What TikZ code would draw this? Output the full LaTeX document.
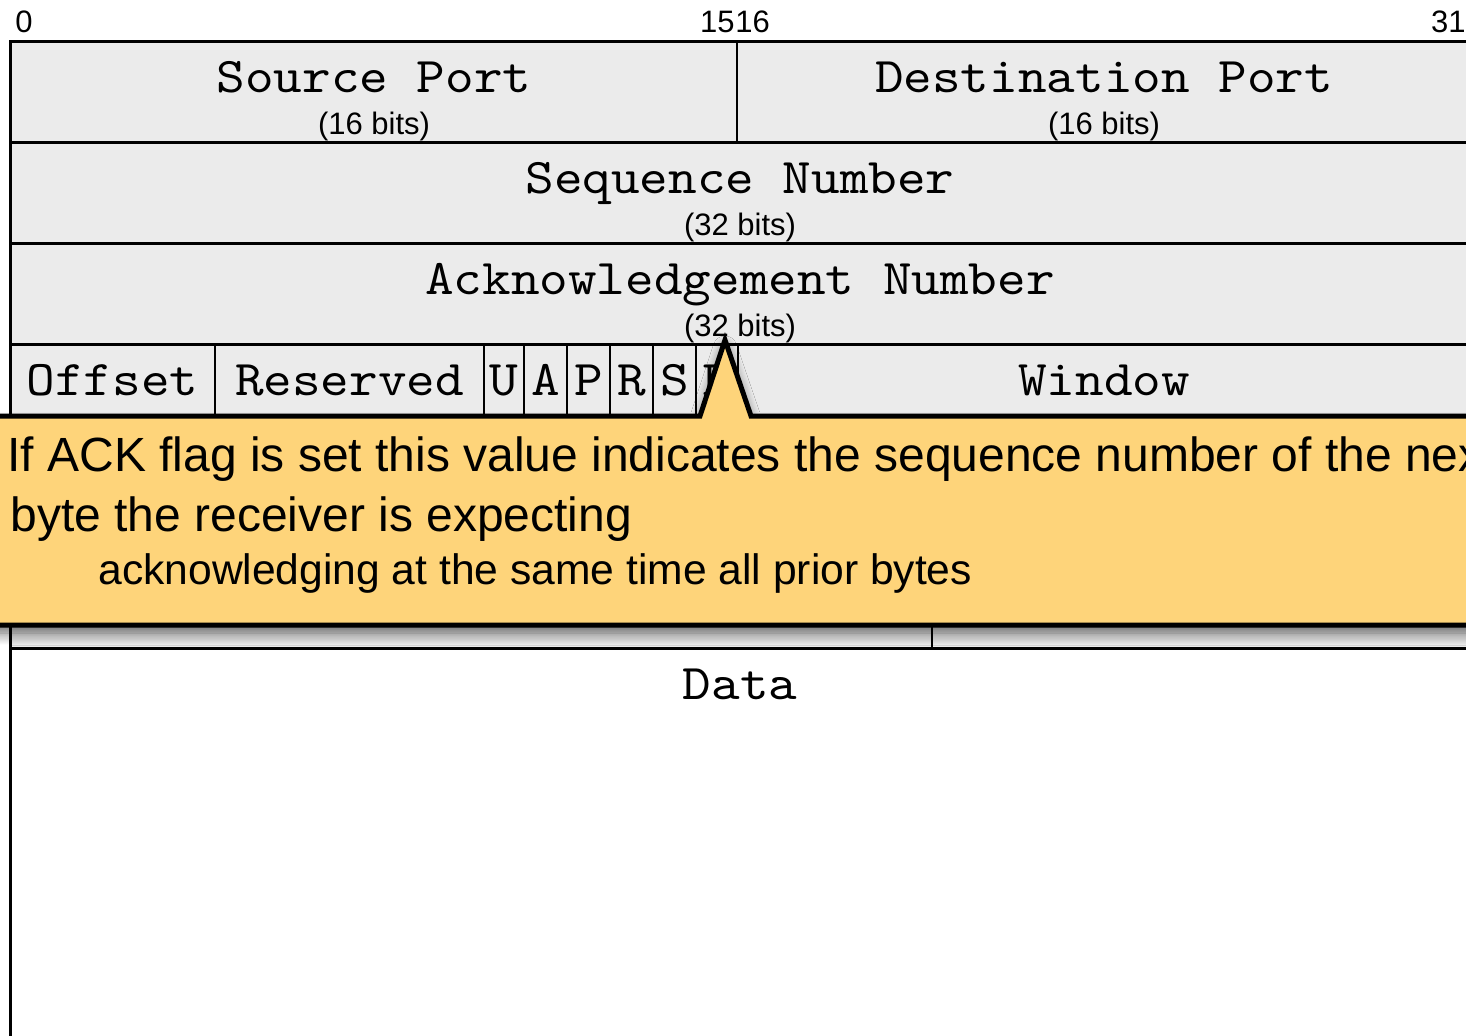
\documentclass[tikz,border=0pt]{standalone}
\usepackage{fontspec}
\setmainfont{Liberation Sans}
\newfontfamily\fieldfont{lmmono10-regular.otf}[FakeStretch=1.09]
\usetikzlibrary{shadows.blur}

\definecolor{cellgray}{RGB}{235,235,235}
\definecolor{noteyellow}{RGB}{254,212,122}

\tikzset{
  field/.style={font=\fieldfont\fontsize{25}{30}\selectfont, anchor=base, inner sep=0pt},
  bits/.style={font=\fontsize{15.5}{18}\selectfont, anchor=base, inner sep=0pt},
  bitno/.style={font=\fontsize{15.5}{18}\selectfont, inner sep=0pt},
  rowline/.style={line width=1.5pt},
  divider/.style={line width=1pt},
  note/.style={fill=noteyellow, draw=black, line width=2.5pt, line join=miter,
    blur shadow={shadow xshift=0pt, shadow yshift=-4pt, shadow blur radius=6pt,
      shadow blur steps=12, shadow opacity=60}},
  notebig/.style={font=\fontsize{24}{29}\selectfont, anchor=base west, inner sep=0pt},
  notesmall/.style={font=\fontsize{21.3}{26}\selectfont, anchor=base west, inner sep=0pt},
}

\begin{document}
\begin{tikzpicture}[x=0.5pt, y=-0.5pt]
\useasboundingbox (0,0) rectangle (1466,1035);
\clip (0,0) rectangle (1466,1035);

% header cells and payload area
\fill[cellgray] (10,41) rectangle (1470,648);
\fill[white] (10,648) rectangle (1470,1045);

% bit numbers
\node[bitno, anchor=base west] (b0) at (15,32) {0};
\node[bitno, anchor=base east] (b15) at (735,32) {15};
\node[bitno, anchor=base west] (b16) at (735,32) {16};
\node[bitno, anchor=base east] (b31) at (1466,32) {31};

% row separators and outer frame
\draw[rowline] (1470,41) -- (10,41) -- (10,1045);
\draw[rowline] (10,142) -- (1470,142);
\draw[rowline] (10,243) -- (1470,243);
\draw[rowline] (10,344) -- (1470,344);
\draw[rowline] (10,648) -- (1470,648);

% column separators
\draw[divider] (737,41) -- (737,142);
\foreach \cx in {215,484,524,567,610,653,696,738}
  \draw[divider] (\cx,344) -- (\cx,445);
\draw[divider] (932,546) -- (932,648);

% field names
\node[field] (src) at (374,92) {Source Port};
\node[bits] (srcb) at (374,134) {(16 bits)};
\node[field] (dst) at (1104,92) {Destination Port};
\node[bits] (dstb) at (1104,134) {(16 bits)};
\node[field] (seq) at (740,193) {Sequence Number};
\node[bits] (seqb) at (740,235) {(32 bits)};
\node[field] (ack) at (740,294) {Acknowledgement Number};
\node[bits] (ackb) at (740,336) {(32 bits)};

\node[field] (off) at (112.5,395) {Offset};
\node[field] (res) at (349.5,395) {Reserved};
\node[field] (fu) at (504,395) {U};
\node[field] (fa) at (545.5,395) {A};
\node[field] (fp) at (588.5,395) {P};
\node[field] (fr) at (631.5,395) {R};
\node[field] (fs) at (674.5,395) {S};
\node[field] (ff) at (717,395) {F};
\node[field] (win) at (1104,395) {Window};

\node[field] (data) at (740,699) {Data};

% explanatory callout pointing at the acknowledgement field
\path[note] (-10,416) -- (700,416) -- (725,340) -- (751,416) -- (1480,416)
  -- (1480,625) -- (-10,625) -- cycle;
\node[notebig] (n1) at (7,471) {If ACK flag is set this value indicates the sequence number of the next};
\node[notebig] (n2) at (10,531) {byte the receiver is expecting};
\node[notesmall] (n3) at (98,584) {acknowledging at the same time all prior bytes};
\end{tikzpicture}
\end{document}
